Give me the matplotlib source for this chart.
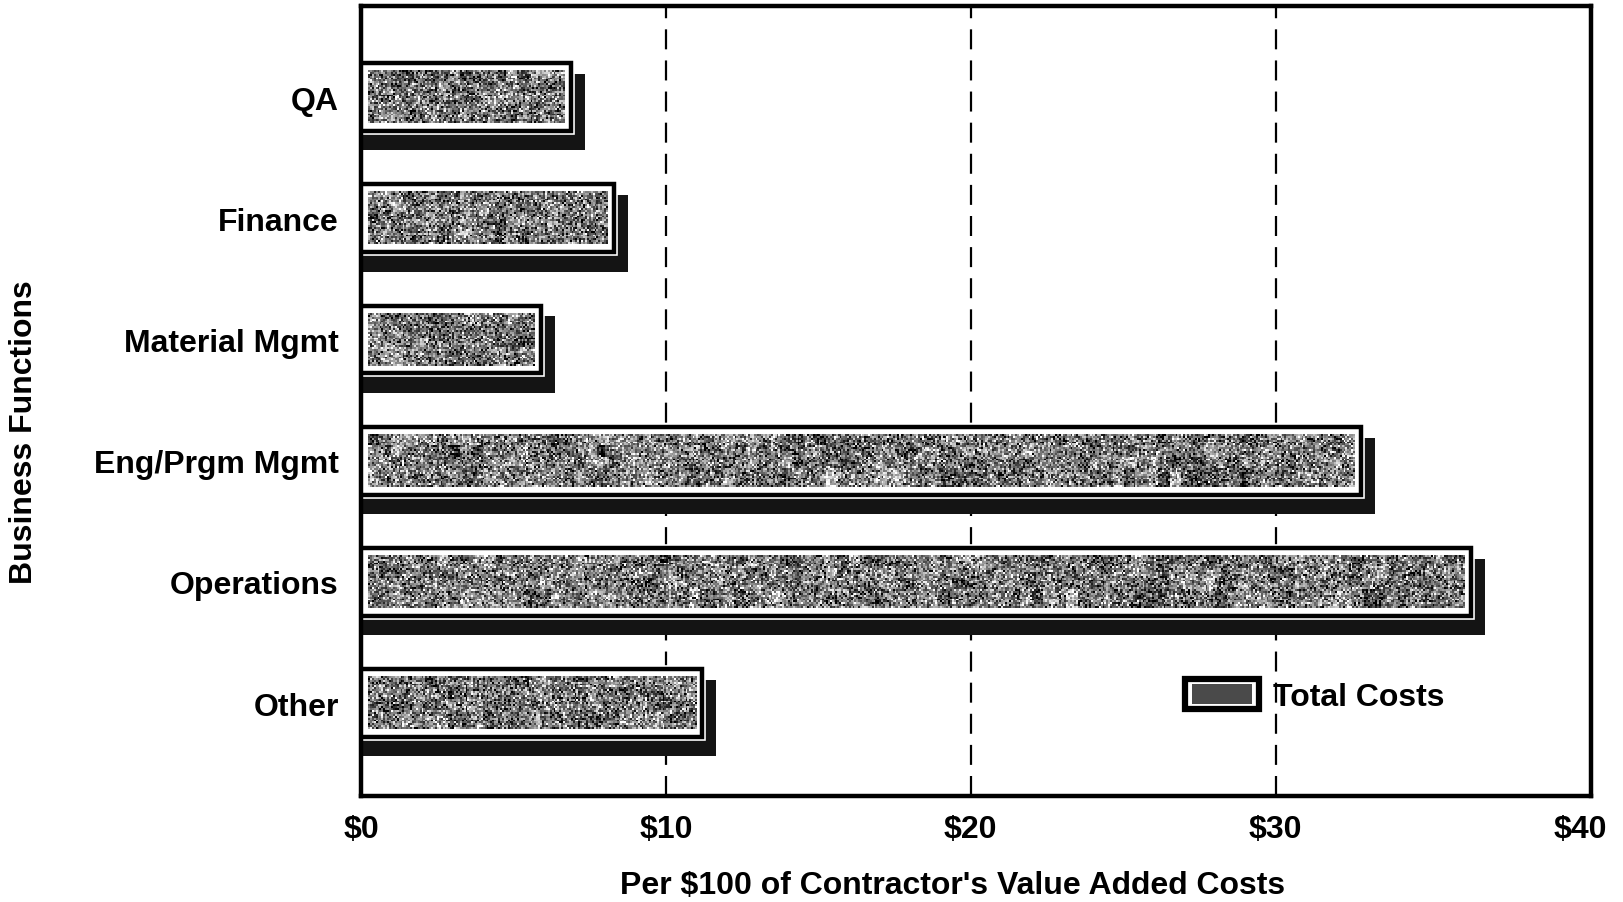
import numpy as np
import matplotlib
matplotlib.use("Agg")
import matplotlib.pyplot as plt
from matplotlib.patches import Rectangle
from matplotlib.legend_handler import HandlerBase

# Cost per $100 of contractor value added, by business function
categories = ["QA", "Finance", "Material Mgmt", "Eng/Prgm Mgmt", "Operations", "Other"]
total_costs = [6.9, 8.3, 5.9, 32.8, 36.4, 11.2]
x_ticks = [0, 10, 20, 30, 40]
x_tick_labels = ["$0", "$10", "$20", "$30", "$40"]

plt.rcParams["font.family"] = ["Liberation Sans", "DejaVu Sans"]
plt.rcParams["font.weight"] = "bold"
FS = 23

fig = plt.figure(figsize=(16.23, 9.03), dpi=100)
ax = fig.add_axes([0.2224, 0.117, 0.758, 0.875])

rng = np.random.default_rng(7)
bar_h = 0.56
shadow_dx = 0.46              # shadow reach beyond the bar end
shadow_top, shadow_bot = 0.09, 0.16
inset_x, inset_y = 0.22, 0.065


def grain(w_cells, h_cells):
    """Stippled grey texture for a bar face."""
    base = 0.47 + 0.26 * rng.standard_normal((h_cells, w_cells))
    # soft low-frequency mottling
    coarse = rng.standard_normal((max(h_cells // 6, 2), max(w_cells // 6, 2)))
    coarse = np.kron(coarse, np.ones((6, 6)))[:h_cells, :w_cells]
    coarse = np.pad(coarse, ((0, h_cells - coarse.shape[0]),
                             (0, w_cells - coarse.shape[1])), mode="edge")
    return np.clip(base + 0.09 * coarse, 0, 1)


for i, (cat, val) in enumerate(zip(categories, total_costs)):
    top = i - bar_h / 2
    # drop shadow
    ax.add_patch(Rectangle((0, top + shadow_top), val + shadow_dx,
                           bar_h + shadow_bot - shadow_top,
                           facecolor="#141414", edgecolor="none", zorder=2))
    # thin white halo separating the frame from its shadow
    ax.add_patch(Rectangle((0, top), val, bar_h, facecolor="white",
                           edgecolor="white", lw=5.5, zorder=2.5))
    # outer frame
    ax.add_patch(Rectangle((0, top), val, bar_h,
                           facecolor="white", edgecolor="black", lw=3.2, zorder=3))
    # textured face
    x0, x1 = inset_x, val - inset_x
    y0, y1 = top + inset_y, top + bar_h - inset_y
    img = grain(max(int((x1 - x0) * 16), 4), 28)
    ax.imshow(img, cmap="gray", vmin=0, vmax=1, extent=(x0, x1, y1, y0),
              aspect="auto", interpolation="nearest", zorder=4)

# dashed reference lines
for xv in x_ticks[1:-1]:
    ax.axvline(xv, color="black", lw=1.6, linestyle=(0, (9, 5)), zorder=1)

ax.set_xlim(0, 40.35)
ax.set_ylim(5.77, -0.75)
ax.set_xticks(x_ticks)
ax.set_xticklabels(x_tick_labels, fontsize=FS, fontweight="bold")
ax.set_yticks(range(len(categories)))
ax.set_yticklabels(categories, fontsize=FS, fontweight="bold")
ax.tick_params(axis="both", length=0)
ax.tick_params(axis="y", pad=16)
ax.tick_params(axis="x", pad=13)
for s in ax.spines.values():
    s.set_linewidth(3.2)

ax.set_xlabel("Per $100 of Contractor's Value Added Costs", fontsize=FS,
              fontweight="bold")
ax.xaxis.set_label_coords(0.4805, -0.093)
ax.set_ylabel("Business Functions", fontsize=FS, fontweight="bold")
ax.yaxis.set_label_coords(-0.262, 0.462)


class FramedSwatch(HandlerBase):
    def create_artists(self, legend, orig_handle, xdescent, ydescent,
                       width, height, fontsize, trans):
        outer = Rectangle((-xdescent, -ydescent), width, height,
                          facecolor="white", edgecolor="black", lw=4.5,
                          transform=trans)
        inner = Rectangle((-xdescent + 5, -ydescent + 4), width - 10, height - 8,
                          facecolor="#4a4a4a", edgecolor="none", transform=trans)
        return [outer, inner]


ax.legend([Rectangle((0, 0), 1, 1)], ["Total Costs"], handler_map={Rectangle: FramedSwatch()},
          loc="center left", bbox_to_anchor=(0.657, 0.128), frameon=False,
          handlelength=2.3, handleheight=1.1, handletextpad=0.45,
          borderpad=0, prop={"weight": "bold", "size": FS})

fig.savefig("out.png", dpi=100)
